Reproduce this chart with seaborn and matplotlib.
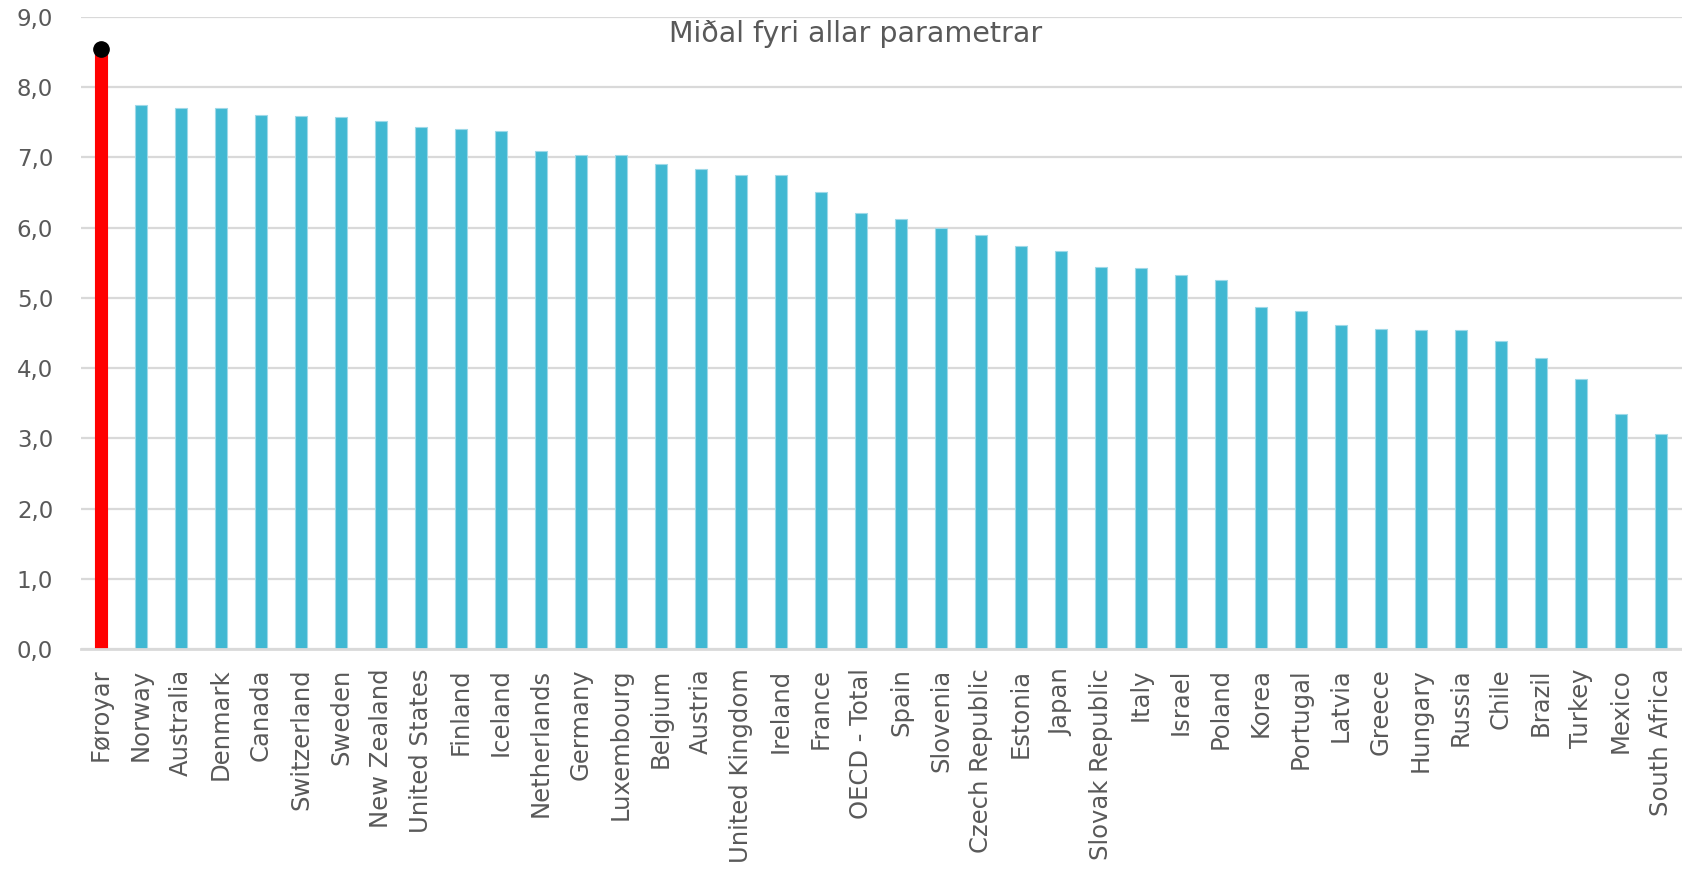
import matplotlib
matplotlib.use("Agg")
import matplotlib.pyplot as plt
import seaborn as sns
import pandas as pd

countries = ["Føroyar", "Norway", "Australia", "Denmark", "Canada", "Switzerland", "Sweden",
             "New Zealand", "United States", "Finland", "Iceland", "Netherlands", "Germany",
             "Luxembourg", "Belgium", "Austria", "United Kingdom", "Ireland", "France",
             "OECD - Total", "Spain", "Slovenia", "Czech Republic", "Estonia", "Japan",
             "Slovak Republic", "Italy", "Israel", "Poland", "Korea", "Portugal", "Latvia",
             "Greece", "Hungary", "Russia", "Chile", "Brazil", "Turkey", "Mexico", "South Africa"]
values = [8.54, 7.75, 7.71, 7.70, 7.60, 7.59, 7.58, 7.52, 7.44, 7.40, 7.38, 7.09, 7.03,
          7.03, 6.90, 6.83, 6.75, 6.75, 6.51, 6.21, 6.12, 5.99, 5.90, 5.74, 5.67, 5.44,
          5.43, 5.33, 5.26, 4.87, 4.82, 4.62, 4.55, 4.54, 4.54, 4.38, 4.15, 3.85, 3.34, 3.06]
yticks = [0, 1, 2, 3, 4, 5, 6, 7, 8, 9]
ytick_labels = ["0,0", "1,0", "2,0", "3,0", "4,0", "5,0", "6,0", "7,0", "8,0", "9,0"]
title = "Miðal fyri allar parametrar"
highlight = "Føroyar"

sns.set_theme(style="white")
plt.rcParams["font.family"] = ["DejaVu Sans"]

TEXT = "#595959"
GRID = "#d9d9d9"
BLUE = "#41B8D2"

df = pd.DataFrame({"country": countries, "value": values})
palette = {c: ("#FF0000" if c == highlight else BLUE) for c in countries}

fig = plt.figure(figsize=(16.83, 8.69), dpi=100)
ax = fig.add_axes([81 / 1683, 1 - 649 / 869, 1 - 81 / 1683, (649 - 17) / 869])

sns.barplot(data=df, x="country", y="value", hue="country", palette=palette,
            width=0.31, legend=False, ax=ax, saturation=1, edgecolor="#9ed9e8", linewidth=0.8)
for p, c in zip(ax.patches, countries):
    if c == highlight:
        p.set_edgecolor("#FF0000")

hv = values[countries.index(highlight)]
ax.plot([countries.index(highlight)], [hv], "o", color="black", ms=11, zorder=5, clip_on=False)

ax.set_ylim(0, 9)
ax.set_xlim(-0.5, 39.55)
ax.set_yticks(yticks)
ax.set_yticklabels(ytick_labels)
ax.yaxis.grid(True, color=GRID, linewidth=1.6)
ax.set_axisbelow(True)
for s in ["top", "right", "left"]:
    ax.spines[s].set_visible(False)
ax.spines["bottom"].set_color(GRID)
ax.spines["bottom"].set_linewidth(2)
ax.tick_params(axis="y", length=0, pad=20, labelsize=16.5, labelcolor=TEXT)
ax.tick_params(axis="x", length=0, pad=14, labelsize=17.5, labelcolor=TEXT, rotation=90)
ax.set_xlabel("")
ax.set_ylabel("")

fig.text(856 / 1683, 1 - 42 / 869, title, ha="center", va="baseline", fontsize=20.5, color=TEXT)

fig.savefig("out.png", dpi=100)
